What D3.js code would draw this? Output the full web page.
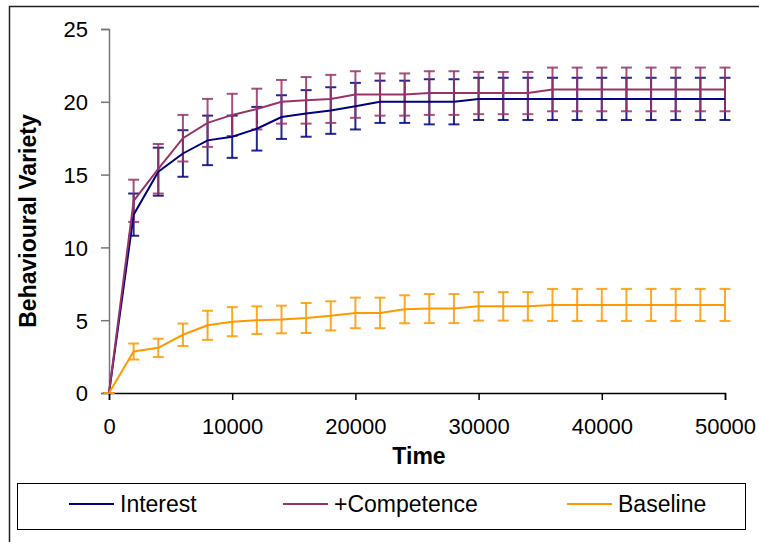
<!DOCTYPE html>
<html>
<head>
<meta charset="utf-8">
<script src="https://cdn.jsdelivr.net/npm/d3@7/dist/d3.min.js"></script>
<style>
  html, body { margin: 0; padding: 0; background: #fff; }
  svg { display: block; font-family: "Liberation Sans", Arial, sans-serif; }
</style>
</head>
<body>
<svg id="chart" width="759" height="542"></svg>
<script>
// Simulation time steps
const times = [0, 2000, 4000, 6000, 8000, 10000, 12000, 14000, 16000, 18000, 20000,
  22000, 24000, 26000, 28000, 30000, 32000, 34000, 36000, 38000, 40000,
  42000, 44000, 46000, 48000, 50000];

// Mean behavioural variety per condition, with error-bar half widths
const interest = [0, 12.25, 15.2, 16.45, 17.35, 17.6, 18.15, 18.95, 19.2, 19.4, 19.7,
  20.0, 20.0, 20.0, 20.0, 20.2, 20.2, 20.2, 20.2, 20.2, 20.2,
  20.2, 20.2, 20.2, 20.2, 20.2];
const interestErr = [0, 1.45, 1.65, 1.6, 1.7, 1.45, 1.5, 1.5, 1.6, 1.6, 1.6,
  1.45, 1.45, 1.55, 1.55, 1.45, 1.45, 1.45, 1.45, 1.45, 1.45,
  1.45, 1.45, 1.45, 1.45, 1.45];

const competence = [0, 13.2, 15.4, 17.5, 18.55, 19.1, 19.5, 20.0, 20.1, 20.2, 20.5,
  20.5, 20.5, 20.6, 20.6, 20.6, 20.6, 20.6, 20.85, 20.85, 20.85,
  20.85, 20.85, 20.85, 20.85, 20.85];
const competenceErr = [0, 1.45, 1.7, 1.6, 1.65, 1.45, 1.4, 1.5, 1.6, 1.65, 1.6,
  1.45, 1.45, 1.5, 1.5, 1.45, 1.45, 1.45, 1.5, 1.5, 1.5,
  1.5, 1.5, 1.5, 1.5, 1.5];

const baseline = [0, 2.85, 3.1, 4.0, 4.65, 4.9, 5.0, 5.05, 5.15, 5.3, 5.5,
  5.5, 5.75, 5.8, 5.8, 5.95, 5.95, 5.95, 6.05, 6.05, 6.05,
  6.05, 6.05, 6.05, 6.05, 6.05];
const baselineErr = [0, 0.55, 0.63, 0.77, 1.0, 1.0, 0.95, 0.95, 1.03, 1.0, 1.05,
  1.05, 0.96, 1.0, 1.0, 0.98, 0.98, 0.98, 1.1, 1.1, 1.1,
  1.1, 1.1, 1.1, 1.1, 1.1];

const seriesNames = ["Interest", "+Competence", "Baseline"];
const seriesColors = ["#000080", "#993366", "#FF9900"];
const yTicks = [0, 5, 10, 15, 20, 25];
const xTicks = [0, 10000, 20000, 30000, 40000, 50000];

const series = [
  { name: seriesNames[0], color: seriesColors[0], values: interest, err: interestErr },
  { name: seriesNames[1], color: seriesColors[1], values: competence, err: competenceErr },
  { name: seriesNames[2], color: seriesColors[2], values: baseline, err: baselineErr }
];

const svg = d3.select("#chart");

// Outer chart frame
svg.append("path")
  .attr("d", "M9.5,560 V6.5 H770")
  .attr("fill", "none")
  .attr("stroke", "#222")
  .attr("stroke-width", 1.5);

const x = d3.scaleLinear().domain([0, 50000]).range([109, 725]);
const y = d3.scaleLinear().domain([0, 25]).range([393, 29]);

// Y axis
const yAxis = svg.append("g")
  .attr("transform", "translate(109,0)")
  .call(d3.axisLeft(y).tickValues(yTicks).tickSize(8).tickPadding(13).tickFormat(d3.format("d")));
yAxis.select(".domain").attr("stroke", "#777").attr("stroke-width", 1.5);
yAxis.selectAll(".tick line").attr("stroke", "#777").attr("stroke-width", 1.5);
yAxis.selectAll(".tick text")
  .attr("font-size", 22).attr("fill", "#000")
  .attr("font-family", "Liberation Sans, Arial, sans-serif")
  .attr("dy", "0.36em");

// X axis
const xAxis = svg.append("g")
  .attr("transform", "translate(0,393)")
  .call(d3.axisBottom(x).tickValues(xTicks).tickSize(7).tickPadding(10).tickFormat(d3.format("d")));
xAxis.select(".domain").attr("stroke", "#000").attr("stroke-width", 1.5);
xAxis.selectAll(".tick line").attr("stroke", "#000").attr("stroke-width", 1.5);
xAxis.selectAll(".tick text")
  .attr("font-size", 22).attr("fill", "#000")
  .attr("font-family", "Liberation Sans, Arial, sans-serif")
  .attr("y", 41).attr("dy", 0);

// Axis titles
svg.append("text")
  .attr("x", 419).attr("y", 464)
  .attr("text-anchor", "middle")
  .attr("font-size", 23).attr("font-weight", "bold")
  .text("Time");

svg.append("text")
  .attr("transform", "translate(36,221) rotate(-90)")
  .attr("text-anchor", "middle")
  .attr("font-size", 23).attr("font-weight", "bold")
  .text("Behavioural Variety");

// Series: error bars then the mean line
const line = d3.line()
  .x((d, i) => x(times[i]))
  .y(d => y(d));

const capHalf = 5.5;
series.forEach(s => {
  const g = svg.append("g");
  const bars = g.selectAll("g.bar")
    .data(s.values.map((v, i) => ({ t: times[i], v, e: s.err[i] })))
    .join("g").attr("class", "bar")
    .attr("stroke", s.color).attr("stroke-width", 2).attr("stroke-opacity", 0.85);
  bars.append("line")
    .attr("x1", d => x(d.t)).attr("x2", d => x(d.t))
    .attr("y1", d => y(d.v + d.e)).attr("y2", d => y(d.v - d.e));
  bars.append("line")
    .attr("x1", d => x(d.t) - capHalf).attr("x2", d => x(d.t) + capHalf)
    .attr("y1", d => y(d.v + d.e)).attr("y2", d => y(d.v + d.e));
  bars.append("line")
    .attr("x1", d => x(d.t) - capHalf).attr("x2", d => x(d.t) + capHalf)
    .attr("y1", d => y(d.v - d.e)).attr("y2", d => y(d.v - d.e));
});

series.forEach(s => {
  svg.append("path")
    .datum(s.values)
    .attr("d", line)
    .attr("fill", "none")
    .attr("stroke", s.color)
    .attr("stroke-width", 2);
});

// Legend
svg.append("rect")
  .attr("x", 17.5).attr("y", 483.5).attr("width", 728).attr("height", 46)
  .attr("fill", "#fff").attr("stroke", "#000").attr("stroke-width", 1);

const legendX = [69, 283, 567];
const legend = svg.selectAll("g.legend")
  .data(series)
  .join("g").attr("class", "legend")
  .attr("transform", (d, i) => `translate(${legendX[i]},504)`);
legend.append("line")
  .attr("x1", 0).attr("x2", 45).attr("y1", 0).attr("y2", 0)
  .attr("stroke", d => d.color).attr("stroke-width", 2);
legend.append("text")
  .attr("x", 51).attr("y", 8)
  .attr("font-size", 23)
  .text(d => d.name);
</script>
</body>
</html>
